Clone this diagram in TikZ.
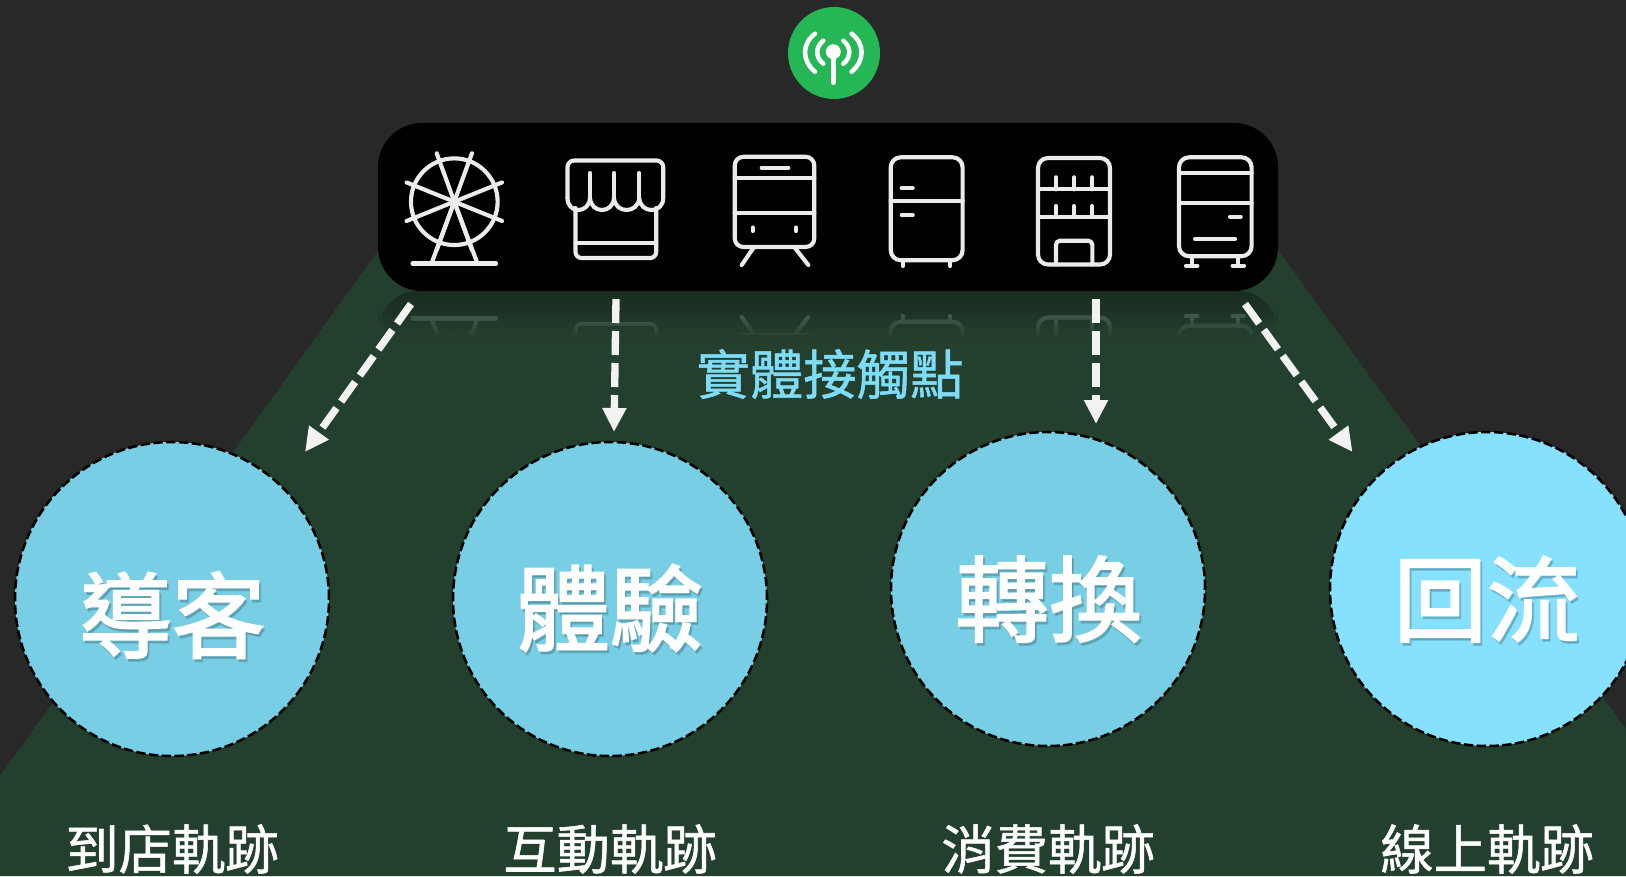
\documentclass[tikz,border=0pt]{standalone}
\usepackage{fontspec}
\usetikzlibrary{arrows.meta,fadings}
\newfontfamily\cjk[FakeBold=1.0]{Noto Sans CJK TC}
\newfontfamily\cjkb[FakeBold=2.2]{Noto Sans CJK TC}
\definecolor{bgc}{HTML}{282828}
\definecolor{trap}{HTML}{233F2E}
\definecolor{trapd}{HTML}{1A2C20}
\definecolor{bub}{HTML}{78CFE5}
\definecolor{bubb}{HTML}{85E1FF}
\definecolor{lab}{HTML}{7FDCF7}
\definecolor{ant}{HTML}{25B755}
\definecolor{arr}{HTML}{F2F2F2}
\tikzset{
  bubble/.style={circle,draw=black,line width=1.9pt,dash pattern=on 7pt off 2.6pt,minimum size=235.5pt,inner sep=0pt,fill=bub},
  bigtxt/.style={text=white,font=\cjkb\fontsize{70}{70}\selectfont,inner sep=0pt},
  bigsh/.style={text=black,opacity=.14,font=\cjkb\fontsize{70}{70}\selectfont,inner sep=0pt},
  captxt/.style={text=white,font=\cjk\fontsize{40}{40}\selectfont,inner sep=0pt},
  flow/.style={draw=arr,line width=5.5pt,dash pattern=on 18pt off 6pt,-{Triangle[width=17pt,length=18pt,fill=arr]}},
  ico/.style={draw=#1,line width=3.1pt,line cap=round,line join=round},
  ico/.default=white
}
% icon set, in reference pixels
\newcommand{\iconset}[1]{%
 \begin{scope}[ico=#1]
  % wheel
  \draw (454.3,201.7) circle[radius=32.5pt];
  \foreach \a in {110,70,22,-22}{
    \draw ({454.3+51.5*cos(\a)},{201.7-51.5*sin(\a)}) -- ({454.3-51.5*cos(\a)},{201.7+51.5*sin(\a)});}
  \draw (454.3,201.7) -- (431.5,263.5);
  \draw (454.3,201.7) -- (477.5,263.5);
  \draw (412.5,263.5) -- (496,263.5);
  % shop
  \draw (567.5,198) [rounded corners=5pt] -- (567.5,160.5) -- (663.2,160.5) -- (663.2,198);
  \draw (663.2,198) .. controls (663.2,214) and (640,214) .. (639.3,198)
        .. controls (638,214) and (615,214) .. (614,198)
        .. controls (613,214) and (591,214) .. (590,198)
        .. controls (589,214) and (567.5,214) .. (567.5,198);
  \draw (590,173) -- (590,198) (614,173) -- (614,198) (639.3,173) -- (639.3,198);
  \draw (575.5,208) [rounded corners=4.5pt] -- (575.5,258) -- (656.2,258) -- (656.2,208);
  \draw (575.5,243.3) -- (656.2,243.3);
  % train
  \draw[rounded corners=6.5pt] (734.7,156.8) rectangle (814.3,247);
  \draw (761.7,167.7) -- (788.3,167.7) (734.7,178.3) -- (814.3,178.3) (734.7,213.3) -- (814.3,213.3);
  \draw (752.7,227.5) -- (752.7,231) (796,227.5) -- (796,231);
  \draw (753.3,248) -- (741.7,265) (795,248) -- (808.3,265);
  % fridge
  \draw[rounded corners=7.5pt] (890.7,157.3) rectangle (962.6,260.2);
  \draw (890.7,201) -- (962.6,201) (901.7,188.3) -- (912.7,188.3) (901.7,215) -- (912.7,215);
  \draw (902.7,260.2) -- (902.7,266) (950,260.2) -- (950,266);
  % shelf
  \draw[rounded corners=7.5pt] (1038,158) rectangle (1110,264.5);
  \draw (1038,189.3) -- (1110,189.3) (1038,216.7) -- (1110,216.7);
  \foreach \x in {1056,1074,1092.3}{\draw (\x,177.3) -- (\x,189.3) (\x,206) -- (\x,216.7);}
  \draw (1056,264.5) [rounded corners=3pt] -- (1056,240.7) -- (1092.3,240.7) -- (1092.3,264.5);
  % cabinet
  \draw[rounded corners=7.5pt] (1179,157.3) rectangle (1251.6,256.2);
  \draw (1179,173.3) -- (1251.6,173.3) (1179,203.3) -- (1251.6,203.3);
  \draw (1230,216.7) -- (1240.7,216.7) (1195,239) -- (1235,239);
  \draw (1191.7,256.2) -- (1191.7,265.7) (1186,265.7) -- (1197.4,265.7);
  \draw (1238.3,256.2) -- (1238.3,265.7) (1232.6,265.7) -- (1244,265.7);
 \end{scope}}
\begin{document}
\begin{tikzpicture}[x=.75pt,y=-.75pt]
\clip (0,0) rectangle (1626,876);
\fill[bgc] (0,0) rectangle (1626,876);
\fill[trap] (0,776) -- (378.6,250) -- (1278,250) -- (1626,729) -- (1626,876) -- (0,876) -- cycle;
% reflection under the bar
\shade[top color=trapd,bottom color=trap,rounded corners=30pt,shading angle=0]
  (378,346) -- (378,291) -- (1278,291) -- (1278,346) -- cycle;
\begin{scope}
 \clip (378,296) rectangle (1278,334);
 \begin{scope}[shift={(0,582)},yscale=-1]
  \iconset{white!15!trap}
 \end{scope}
\end{scope}
\fill[trap,path fading=north] (360,312) rectangle (1296,340);
% bar
\node[fill=black,rounded corners=33pt,minimum width=675pt,minimum height=126pt,inner sep=0pt] (bar) at (828,207) {};
\iconset{white!92!black}
% antenna
\node[circle,fill=ant,minimum size=69pt,inner sep=0pt] (antenna) at (834,53) {};
\begin{scope}[shift={(833.3,51.7)},draw=white,line width=3.4pt,line cap=round]
 \fill[white] (0,0) circle[radius=5.6pt];
 \draw (0,0) -- (0,31);
 \draw (-18.3,20) .. controls (-31.6,9) and (-31.6,-8) .. (-18.3,-18);
 \draw (18.3,20) .. controls (31.6,9) and (31.6,-8) .. (18.3,-18);
 \draw (-10,12) .. controls (-18,6) and (-18,-5) .. (-10,-11);
 \draw (10,12) .. controls (18,6) and (18,-5) .. (10,-11);
\end{scope}
% circles
\node[bubble] (c1) at (172,599) {};
\node[bubble] (c2) at (610,599) {};
\node[bubble] (c3) at (1048,589) {};
\node[bubble,fill=bubb] (c4) at (1487,589) {};
% big words
\node[bigsh] at (174,618) {導客};
\node[bigtxt] (t1) at (172,615) {導客};
\node[bigsh] at (612,611) {體驗};
\node[bigtxt] (t2) at (610,608) {體驗};
\node[bigsh] at (1051,602) {轉換};
\node[bigtxt] (t3) at (1049,599) {轉換};
\node[bigsh] at (1489,602) {回流};
\node[bigtxt] (t4) at (1487,599) {回流};
% captions
\node[captxt] (k1) at (172,849) {到店軌跡};
\node[captxt] (k2) at (610,849) {互動軌跡};
\node[captxt] (k3) at (1048,849) {消費軌跡};
\node[captxt] (k4) at (1487,849) {線上軌跡};
\node[captxt,text=lab] (title) at (830,374) {實體接觸點};
% arrows
\coordinate (a1s) at (411,304); \coordinate (a1e) at (305,452);
\coordinate (a2s) at (616,299); \coordinate (a2e) at (614,432);
\coordinate (a3s) at (1096,299); \coordinate (a3e) at (1096,424);
\coordinate (a4s) at (1245,304); \coordinate (a4e) at (1352.5,452);
\draw[flow] (a1s) -- (a1e);
\draw[flow] (a2s) -- (a2e);
\draw[flow] (a3s) -- (a3e);
\draw[flow] (a4s) -- (a4e);
\end{tikzpicture}
\end{document}
